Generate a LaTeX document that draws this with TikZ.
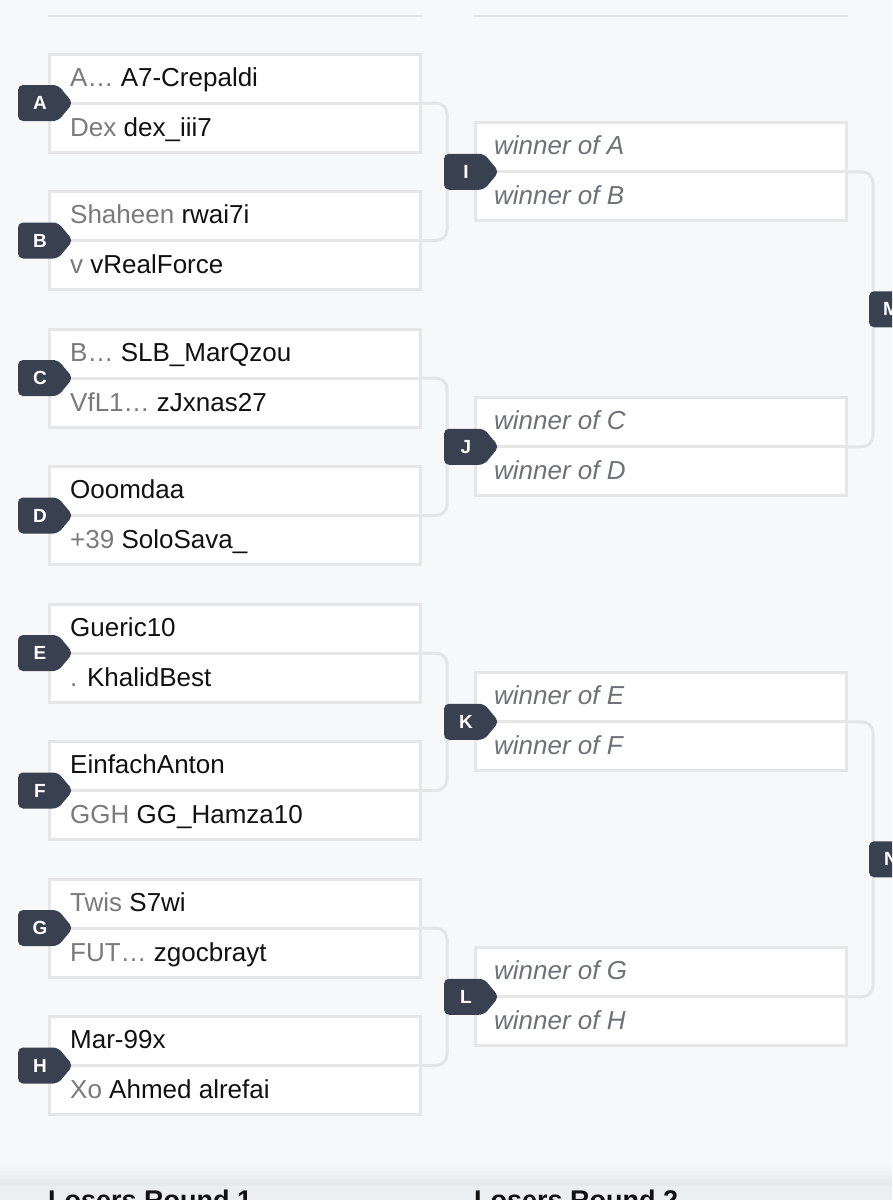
\documentclass[tikz,border=0pt]{standalone}
\usepackage{fontspec}
\setmainfont{Liberation Sans}
\usetikzlibrary{calc}
\definecolor{bg}{HTML}{F7F8FA}
\definecolor{lineg}{HTML}{E4E5E7}
\definecolor{boxb}{HTML}{E6E6E6}
\definecolor{tagc}{HTML}{394150}
\definecolor{pre}{HTML}{7A7A7A}
\definecolor{nm}{HTML}{111111}
\definecolor{win}{HTML}{6E7178}
\definecolor{shade}{HTML}{E6E7E9}
\tikzset{
  matchbox/.style={draw=boxb, line width=3pt, fill=white, minimum width=371pt, minimum height=98pt, inner sep=0pt, anchor=center},
  divider/.style={draw=boxb, line width=3pt},
  conn/.style={draw=lineg, line width=3pt, rounded corners=11pt},
  rowtext/.style={anchor=base west, inner sep=0pt, font=\fontsize{26}{30}\selectfont},
  wintext/.style={anchor=base west, inner sep=0pt, font=\fontsize{26}{30}\selectfont\itshape, text=win},
  tagtext/.style={text=white, font=\fontsize{19}{22}\selectfont\bfseries, inner sep=0pt},
  tagshape/.style={fill=tagc, rounded corners=5pt},
  hline/.style={draw=lineg, line width=2pt},
  title/.style={anchor=base west, inner sep=0pt, text=nm, font=\fontsize{27}{32}\selectfont\bfseries}
}
\newcommand{\tagat}[4]{% name, letter, left x, center y
  \path[tagshape] (#3,#4-18) -- (#3+40,#4-18) -- (#3+55,#4) -- (#3+40,#4+18) -- (#3,#4+18) -- cycle;
  \node[tagtext] (#1) at (#3+22,#4) {#2};
}
\newcommand{\rone}[6]{% name, divider y, pre1, name1, pre2, name2
  \node[matchbox] (#1) at (235,#2) {};
  \draw[divider] (#1.west |- 0,#2) -- (#1.east |- 0,#2);
  \node[rowtext] (#1r1) at (70,#2-17) {\textcolor{pre}{#3}\textcolor{nm}{#4}};
  \node[rowtext] (#1r2) at (70,#2+33) {\textcolor{pre}{#5}\textcolor{nm}{#6}};
}
\newcommand{\rtwo}[4]{% name, divider y, letter1, letter2
  \node[matchbox] (#1) at (661,#2) {};
  \draw[divider] (#1.west |- 0,#2) -- (#1.east |- 0,#2);
  \node[wintext] (#1r1) at (494,#2-17) {winner of #3};
  \node[wintext] (#1r2) at (494,#2+33) {winner of #4};
}
\begin{document}
\begin{tikzpicture}[x=1pt,y=-1pt]
\useasboundingbox (0,0) rectangle (892,1200);
\clip (0,0) rectangle (892,1200);
\fill[bg] (0,0) rectangle (892,1200);
% bottom panel shadow
\shade[top color=bg, bottom color=shade] (0,1163) rectangle (892,1186);
\fill[shade!60!bg] (0,1186) rectangle (892,1200);
% header lines
\draw[hline] (48,16) -- (422,16);
\draw[hline] (474,16) -- (848,16);
% round 1 boxes
\rone{bA}{103}{A\dots\ }{A7-Crepaldi}{Dex }{dex\_iii7}
\rone{bB}{240.5}{Shaheen }{rwai7i}{v }{vRealForce}
\rone{bC}{378}{B\dots\ }{SLB\_MarQzou}{VfL1\dots\ }{zJxnas27}
\rone{bD}{515.5}{}{Ooomdaa}{+39 }{SoloSava\_}
\rone{bE}{653}{}{Gueric10}{. }{KhalidBest}
\rone{bF}{790.5}{}{EinfachAnton}{GGH }{GG\_Hamza10}
\rone{bG}{928}{Twis }{S7wi}{FUT\dots\ }{zgocbrayt}
\rone{bH}{1065.5}{}{Mar-99x}{Xo }{Ahmed alrefai}
% round 2 boxes
\rtwo{bI}{171.75}{A}{B}
\rtwo{bJ}{446.75}{C}{D}
\rtwo{bK}{721.75}{E}{F}
\rtwo{bL}{996.75}{G}{H}
% connectors
\draw[conn] (bA.east) -- ++(25,0) |- (bB.east);
\draw[conn] (bC.east) -- ++(25,0) |- (bD.east);
\draw[conn] (bE.east) -- ++(25,0) |- (bF.east);
\draw[conn] (bG.east) -- ++(25,0) |- (bH.east);
\draw[conn] (bI.east) -- ++(25,0) |- (bJ.east);
\draw[conn] (bK.east) -- ++(25,0) |- (bL.east);
% tags
\tagat{tA}{A}{18}{103}
\tagat{tB}{B}{18}{240.5}
\tagat{tC}{C}{18}{378}
\tagat{tD}{D}{18}{515.5}
\tagat{tE}{E}{18}{653}
\tagat{tF}{F}{18}{790.5}
\tagat{tG}{G}{18}{928}
\tagat{tH}{H}{18}{1065.5}
\tagat{tI}{I}{444}{171.75}
\tagat{tJ}{J}{444}{446.75}
\tagat{tK}{K}{444}{721.75}
\tagat{tL}{L}{444}{996.75}
\tagat{tM}{M}{869}{309.25}
\tagat{tN}{N}{869}{859.25}
% column titles
\node[title] (t1) at (48,1209) {Losers Round 1};
\node[title] (t2) at (474,1209) {Losers Round 2};
\end{tikzpicture}
\end{document}
